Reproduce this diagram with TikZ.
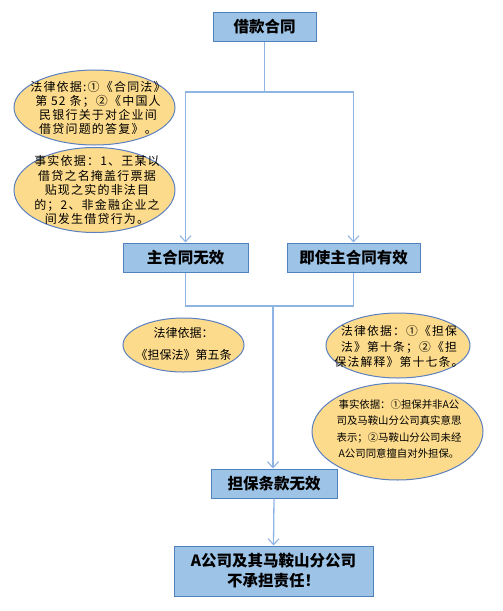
\documentclass[tikz,border=0pt]{standalone}
\usepackage{fontspec}
\setmainfont{Noto Sans CJK SC}
\newfontfamily\spacedcjk[LetterSpace=10]{Noto Sans CJK SC}
\usepackage{tikz}
\usepackage{xcolor}
\usetikzlibrary{shapes.geometric, arrows.meta}
\definecolor{boxfill}{HTML}{9DC3E6}
\definecolor{boxline}{HTML}{4F81BD}
\definecolor{basisfill}{HTML}{FCDB8C}
\definecolor{basisline}{HTML}{5B7FBF}
\definecolor{linkcol}{HTML}{8EB4E3}
\tikzstyle{block} = [rectangle, draw=boxline, fill=boxfill, line width=1pt, inner sep=0pt, text centered, align=center, font={\bfseries\fontsize{15.5}{20}\selectfont}]
\tikzstyle{basis} = [ellipse, draw=basisline, fill=basisfill, line width=1pt, inner sep=0pt]
\tikzstyle{basistext} = [inner sep=0pt, align=center]
\tikzstyle{link} = [draw=linkcol, line width=1.3pt]
\tikzstyle{arrow} = [link, ->, >={Straight Barb[length=6pt,width=11pt,line width=1.1pt]}]

\begin{document}
\begin{tikzpicture}[x=1pt, y=-1pt]
			\useasboundingbox (0,0) rectangle (503,611);
			
			\node(loan) at (264.5, 26.5) [block, minimum width=103, minimum height=29] {借款合同};
			\node(void) at (185.5, 257.5) [block, minimum width=125, minimum height=29] {主合同无效};
			\node(valid) at (353.5, 257.5) [block, minimum width=133, minimum height=29] {即使主合同有效};
			\node(guar) at (274, 483.5) [block, minimum width=126, minimum height=29] {担保条款无效};
			\node(result) at (273.5, 571) [block, minimum width=199, minimum height=50] {A公司及其马鞍山分公司\\不承担责任！};
			
			\node(law1) at (94.5, 107.5) [basis, minimum width=161, minimum height=75] {};
			\node(fact1) at (94.5, 190) [basis, minimum width=161, minimum height=85] {};
			\node(law2) at (183.5, 345) [basis, minimum width=121, minimum height=54] {};
			\node(law3) at (398, 345.5) [basis, minimum width=144, minimum height=65] {};
			\node(fact3) at (397.5, 431.5) [basis, minimum width=171, minimum height=97] {};
			
			\node(law1t) at (98, 108) [basistext, font={\spacedcjk\fontsize{12}{14}\selectfont}] {法律依据:①《合同法》\\第 52 条；②《中国人\\民银行关于对企业间\\借贷问题的答复》。};
			\node(fact1t) at (97, 190) [basistext, font={\spacedcjk\fontsize{12}{14.5}\selectfont}] {事实依据：1、王某以\\借贷之名掩盖行票据\\贴现之实的非法目\\的；2、非金融企业之\\间发生借贷行为。};
			\node(law2t) at (183.5, 344) [basistext, font={\fontsize{12}{22}\selectfont}] {法律依据：\\《担保法》第五条};
			\node(law3t) at (399, 347) [basistext, font={\spacedcjk\fontsize{11.8}{15.5}\selectfont}] {法律依据：①《担保\\法》第十条；②《担\\保法解释》第十七条。};
			\node(fact3t) at (399, 429) [basistext, font={\fontsize{10.4}{16.5}\selectfont}] {事实依据：①担保并非A公\\司及马鞍山分公司真实意思\\表示；②马鞍山分公司未经\\A公司同意擅自对外担保。};
			
			\coordinate (split) at (264.5, 92);
			\coordinate (merge) at (273, 306);
			\draw [link] (loan.south) -- (split);
			\draw [arrow] (split) -| (void.north);
			\draw [arrow] (split) -| (valid.north);
			\draw [link] (void.south) |- (merge) -| (valid.south);
			\draw [arrow] (merge) -- (merge |- guar.north);
			\draw [arrow] (guar.south) -- (result.north);
		\end{tikzpicture}
\end{document}
